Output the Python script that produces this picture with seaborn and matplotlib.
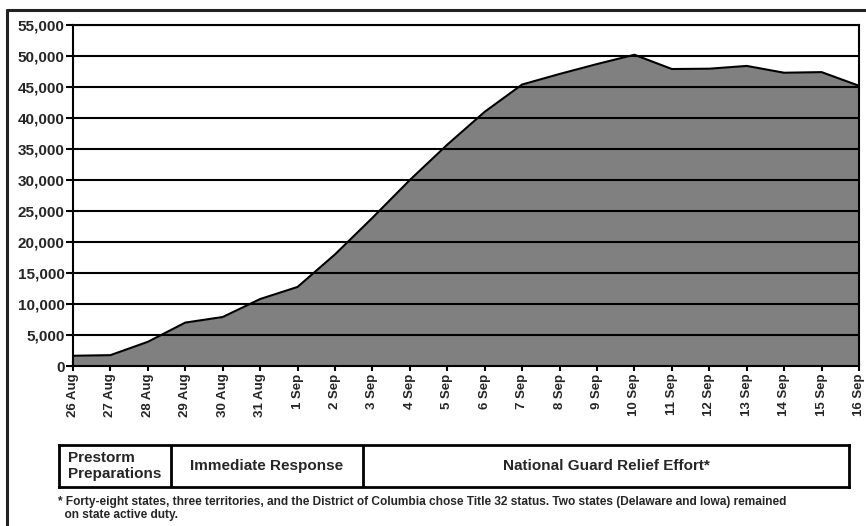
import numpy as np
import pandas as pd
import matplotlib
matplotlib.use("Agg")
import matplotlib.pyplot as plt
from matplotlib.lines import Line2D
from matplotlib.ticker import FuncFormatter
import seaborn as sns

# daily National Guard strength, 26 Aug - 16 Sep
DAYS = ["26 Aug", "27 Aug", "28 Aug", "29 Aug", "30 Aug", "31 Aug",
        "1 Sep", "2 Sep", "3 Sep", "4 Sep", "5 Sep", "6 Sep", "7 Sep",
        "8 Sep", "9 Sep", "10 Sep", "11 Sep", "12 Sep", "13 Sep",
        "14 Sep", "15 Sep", "16 Sep"]
TROOPS = [1650, 1750, 3900, 7000, 7900, 10800, 12750, 18000, 23900, 30000,
          35700, 41000, 45400, 47100, 48700, 50200, 47900, 47950, 48400,
          47300, 47400, 45200]
Y_TICKS = list(range(0, 55001, 5000))

PHASES = ["Prestorm\nPreparations", "Immediate Response",
          "National Guard Relief Effort*"]
FOOTNOTE = ("* Forty-eight states, three territories, and the District of Columbia "
            "chose Title 32 status. Two states (Delaware and Iowa) remained\n"
            "  on state active duty.")

W, H = 866, 526

sns.set_theme(style="white")
plt.rcParams["font.family"] = ["Liberation Sans", "DejaVu Sans"]
plt.rcParams["font.weight"] = "bold"

df = pd.DataFrame({"pos": np.arange(len(DAYS)), "troops": TROOPS})

fig = plt.figure(figsize=(W / 100, H / 100), dpi=100)
ax = fig.add_axes([73 / W, 1 - 366 / H, (859 - 73) / W, (366 - 25) / H])

ax.fill_between(df["pos"], df["troops"], 0, color="#808080", zorder=2, lw=0)
sns.lineplot(data=df, x="pos", y="troops", color="black", lw=1.5, ax=ax, zorder=3)

ax.set_xlim(0, len(DAYS) - 1)
ax.set_ylim(0, 55000)
ax.set_yticks(Y_TICKS)
ax.yaxis.set_major_formatter(FuncFormatter(lambda v, p: f"{int(v):,}"))
ax.set_xticks(df["pos"])
ax.set_xticklabels(DAYS, rotation=90, fontsize=9.5, fontweight="bold")
for lab in ax.get_yticklabels():
    lab.set_fontsize(11)
    lab.set_fontweight("bold")
ax.set_xlabel("")
ax.set_ylabel("")

for y in Y_TICKS[1:]:
    ax.axhline(y, color="black", lw=1.5, zorder=4)

for s in ax.spines.values():
    s.set_color("black")
    s.set_linewidth(1.5)
    s.set_zorder(5)

ax.tick_params(axis="x", direction="inout", length=7, width=1.5, color="black", pad=2)
ax.tick_params(axis="y", direction="out", length=5, width=1.5, color="black", pad=1,
               left=True)
ax.tick_params(axis="x", bottom=True)

# outer frame (top and left edges only visible)
fig.add_artist(Line2D([7 / W, 1.0], [1 - 9.5 / H] * 2, transform=fig.transFigure,
                      color="#222222", lw=2.2))
fig.add_artist(Line2D([7 / W] * 2, [0.0, 1 - 9.5 / H], transform=fig.transFigure,
                      color="#222222", lw=2.2))

# phase table
tab = fig.add_axes([59 / W, 1 - 487 / H, (849 - 59) / W, (487 - 445) / H])
tab.set_xlim(59, 849)
tab.set_ylim(0, 1)
tab.set_xticks([])
tab.set_yticks([])
for s in tab.spines.values():
    s.set_color("black")
    s.set_linewidth(2)
edges = [59, 171, 363, 849]
for x in edges[1:-1]:
    tab.axvline(x, color="black", lw=2)
for i, label in enumerate(PHASES):
    cx = (edges[i] + edges[i + 1]) / 2
    tab.text(cx, 0.5, label, ha="center", va="center", fontsize=11,
             fontweight="bold", linespacing=1.25, multialignment="left")

fig.text(58 / W, 1 - 496 / H, FOOTNOTE, ha="left", va="top", fontsize=8.6,
         fontweight="bold", linespacing=1.1)

fig.savefig("out.png", dpi=100)
